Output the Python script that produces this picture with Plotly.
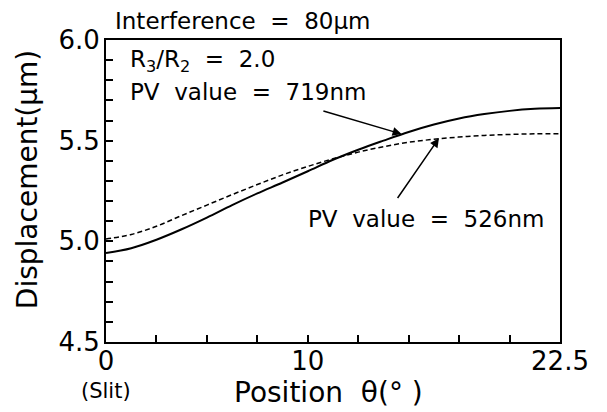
import plotly.graph_objects as go

theta = [0, 1.25, 2.5, 3.75, 5, 6.25, 7.5, 8.75, 10, 11.25, 12.5, 13.75,
         15, 16.25, 17.5, 18.75, 20, 21.25, 22.5]
disp_solid = [4.942, 4.966, 5.008, 5.060, 5.118, 5.180, 5.238, 5.292, 5.348,
              5.405, 5.455, 5.500, 5.543, 5.580, 5.610, 5.632, 5.648, 5.658, 5.662]
disp_dashed = [5.012, 5.034, 5.075, 5.128, 5.180, 5.232, 5.282, 5.330, 5.372,
               5.410, 5.443, 5.470, 5.492, 5.507, 5.518, 5.526, 5.531, 5.534, 5.535]

x_tickvals = [0, 2.5, 5, 7.5, 10, 12.5, 15, 17.5, 20, 22.5]
x_ticktext = ["0", "", "", "", "10", "", "", "", "", "22.5"]
y_tickvals = [4.5, 4.6, 4.7, 4.8, 4.9, 5.0, 5.1, 5.2, 5.3, 5.4, 5.5, 5.6, 5.7, 5.8, 5.9, 6.0]
y_ticktext = ["4.5", "", "", "", "", "5.0", "", "", "", "", "5.5", "", "", "", "", "6.0"]

FONT = "DejaVu Sans, Arial, sans-serif"
NB = "\u00a0"

fig = go.Figure()
fig.add_trace(go.Scatter(x=theta, y=disp_dashed, mode="lines", line_shape="spline",
                         line=dict(color="black", width=1.5, dash="5px,3px"),
                         showlegend=False))
fig.add_trace(go.Scatter(x=theta, y=disp_solid, mode="lines", line_shape="spline",
                         line=dict(color="black", width=2),
                         showlegend=False))

axis_common = dict(showline=True, linecolor="black", linewidth=2, mirror=True,
                   ticks="inside", ticklen=7, tickwidth=1.5, tickcolor="black",
                   showgrid=False, zeroline=False, automargin=False)

fig.update_xaxes(range=[0, 22.5], tickmode="array", tickvals=x_tickvals,
                 ticktext=x_ticktext, ticklabelstandoff=-5,
                 tickfont=dict(family=FONT, size=26, color="black"), **axis_common)
fig.update_yaxes(range=[4.5, 6.0], tickmode="array", tickvals=y_tickvals,
                 ticktext=y_ticktext, ticklabelstandoff=-1,
                 tickfont=dict(family=FONT, size=26, color="black"), **axis_common)

ann_font = dict(family=FONT, size=23, color="black")
annotations = [
    dict(x=0.015, y=1.063, xref="paper", yref="paper", xanchor="left", yanchor="middle",
         text=f"Interference{NB}{NB}={NB}{NB}80μm", showarrow=False, font=ann_font),
    dict(x=0.048, y=0.93, xref="paper", yref="paper", xanchor="left", yanchor="middle",
         text=f"R<sub>3</sub>/R<sub>2</sub>{NB}{NB}={NB}{NB}2.0", showarrow=False, font=ann_font),
    dict(x=0.048, y=0.828, xref="paper", yref="paper", xanchor="left", yanchor="middle",
         text=f"PV{NB}{NB}value{NB}{NB}={NB}{NB}719nm", showarrow=False, font=ann_font),
    dict(x=0.44, y=0.407, xref="paper", yref="paper", xanchor="left", yanchor="middle",
         text=f"PV{NB}{NB}value{NB}{NB}={NB}{NB}526nm", showarrow=False, font=ann_font),
    # arrows
    dict(x=14.65, y=5.533, ax=10.7, ay=5.65, xref="x", yref="y", axref="x", ayref="y",
         text="", showarrow=True, arrowhead=2, arrowsize=1.2, arrowwidth=1.5, arrowcolor="black"),
    dict(x=16.5, y=5.512, ax=14.4, ay=5.208, xref="x", yref="y", axref="x", ayref="y",
         text="", showarrow=True, arrowhead=2, arrowsize=1.2, arrowwidth=1.5, arrowcolor="black"),
    # axis extra labels
    dict(x=-0.001, y=-0.162, xref="paper", yref="paper", xanchor="center", yanchor="middle",
         text="(Slit)", showarrow=False, font=dict(family=FONT, size=21, color="black")),
    dict(x=0.49, y=-0.166, xref="paper", yref="paper", xanchor="center", yanchor="middle",
         text=f"Position{NB}{NB}θ(°{NB})", showarrow=False,
         font=dict(family=FONT, size=28, color="black")),
    dict(x=-0.174, y=0.536, xref="paper", yref="paper", xanchor="center", yanchor="middle",
         text="Displacement(μm)", textangle=-90, showarrow=False,
         font=dict(family=FONT, size=28, color="black")),
]

fig.update_layout(width=607, height=412, margin=dict(l=106, r=47, t=40, b=70),
                  plot_bgcolor="white", paper_bgcolor="white",
                  annotations=annotations)

fig.write_html("out.html", config={"displayModeBar": False},
               post_script="document.body.style.margin='0';document.body.style.padding='0';")
